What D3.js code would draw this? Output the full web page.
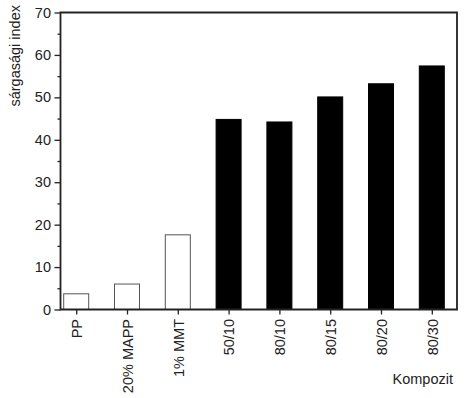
<!DOCTYPE html>
<html>
<head>
<meta charset="utf-8">
<script src="https://cdn.jsdelivr.net/npm/d3@7"></script>
<style>
  body { margin: 0; background: #fff; }
  svg { display: block; font-family: "Liberation Sans", Arial, sans-serif; }
</style>
</head>
<body>
<div id="chart"></div>
<script>
// data
let categories = ["PP", "20% MAPP", "1% MMT", "50/10", "80/10", "80/15", "80/20", "80/30"];
let values = [3.7, 6.0, 17.6, 44.8, 44.2, 50.1, 53.2, 57.4];
let filled = [false, false, false, true, true, true, true, true];
let yTicks = [0, 10, 20, 30, 40, 50, 60, 70];
let yMinorTicks = [5, 15, 25, 35, 45, 55, 65];

let width = 467, height = 398;
let plotLeft = 60.5, plotRight = 457, plotTop = 12.5, plotBottom = 309.5;

let svg = d3.select("#chart")
    .append("svg")
    .attr("width", width)
    .attr("height", height);

let x = d3.scalePoint()
    .domain(categories)
    .range([76.2, 431.8]);

let y = d3.scaleLinear()
    .domain([0, 70])
    .range([plotBottom, plotTop]);

let barW = 26;

//bars
svg.selectAll("rect.bar")
    .data(values)
    .enter()
    .append("rect")
    .attr("class", "bar")
    .attr("x", function(d, i){ return x(categories[i]) - barW / 2 + 0.5 })
    .attr("y", function(d){ return y(d) })
    .attr("width", barW - 1)
    .attr("height", function(d){ return y(0) - y(d) })
    .style("fill", function(d, i){ return filled[i] ? "#000" : "#fff" })
    .style("stroke", function(d, i){ return filled[i] ? "#000" : "#555" })
    .style("stroke-width", 1);

//y axis, major ticks with labels
let yAxis = svg.append("g")
    .attr("transform", "translate(" + plotLeft + ",0)")
    .call(d3.axisLeft(y).tickValues(yTicks).tickSize(6).tickPadding(3.5).tickFormat(d3.format("d")));
yAxis.select(".domain").remove();
yAxis.selectAll("line").style("stroke", "#222").style("stroke-width", 1.3);
yAxis.selectAll("text").style("font-size", "14.5px").style("fill", "#222");

//y minor ticks
svg.append("g")
    .attr("transform", "translate(" + plotLeft + ",0)")
    .call(d3.axisLeft(y).tickValues(yMinorTicks).tickSize(3).tickFormat(""))
    .call(function(g){ g.select(".domain").remove() })
    .selectAll("line").style("stroke", "#222").style("stroke-width", 1.3);

//x axis
let xAxis = svg.append("g")
    .attr("transform", "translate(0," + plotBottom + ")")
    .call(d3.axisBottom(x).tickSize(5).tickPadding(0));
xAxis.select(".domain").remove();
xAxis.selectAll("line").style("stroke", "#222").style("stroke-width", 1.3);
xAxis.selectAll("text")
    .style("font-size", "14.5px")
    .style("fill", "#222")
    .attr("text-anchor", "end")
    .attr("transform", "rotate(-90)")
    .attr("x", -9.5)
    .attr("y", 0)
    .attr("dy", "0.36em");

//frame
svg.append("path")
    .attr("d", "M" + plotLeft + "," + plotTop + "V" + plotBottom + "H" + plotRight + "V" + plotTop + "Z")
    .style("fill", "none")
    .style("stroke", "#222")
    .style("stroke-width", 1.8);

//axis titles
svg.append("text")
    .attr("transform", "translate(20,5) rotate(-90)")
    .attr("text-anchor", "end")
    .style("font-size", "14.5px")
    .style("fill", "#222")
    .text("sárgasági index");

svg.append("text")
    .attr("x", 453)
    .attr("y", 384)
    .attr("text-anchor", "end")
    .style("font-size", "14.5px")
    .style("fill", "#222")
    .text("Kompozit");
</script>
</body>
</html>
